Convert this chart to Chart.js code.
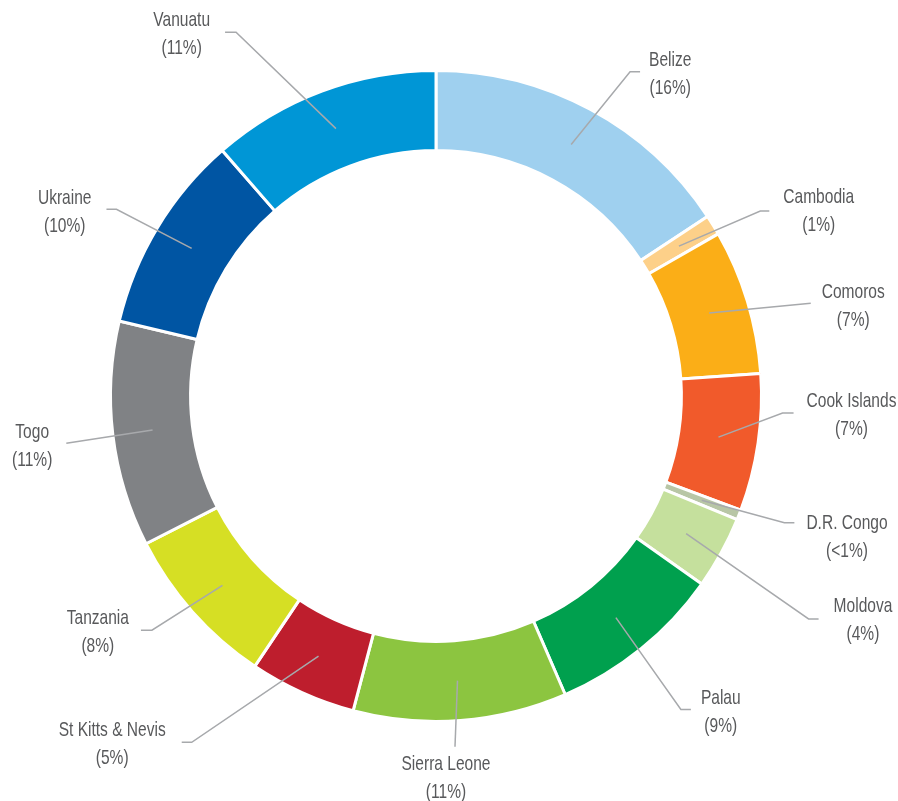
<!DOCTYPE html>
<html>
<head>
<meta charset="utf-8">
<script src="https://cdn.jsdelivr.net/npm/chart.js@4.4.1/dist/chart.umd.min.js"></script>
<style>
  html, body { margin: 0; padding: 0; background: #ffffff; }
  canvas { display: block; }
</style>
</head>
<body>
<canvas id="ring" width="898" height="801"></canvas>
<script>
// Share of total, by country (clockwise from 12 o'clock)
const countries = ['Belize', 'Cambodia', 'Comoros', 'Cook Islands', 'D.R. Congo', 'Moldova', 'Palau',
  'Sierra Leone', 'St Kitts & Nevis', 'Tanzania', 'Togo', 'Ukraine', 'Vanuatu'];
const shares = [15.7, 1.0, 7.2, 6.8, 0.5, 3.6, 8.7, 10.6, 5.3, 8.1, 11.2, 9.9, 11.4];
const sliceColors = ['#9fd0ef', '#fdd089', '#fbae17', '#f15a2b', '#b8c6a6', '#c5e09d', '#00a04e',
  '#8cc540', '#be1e2d', '#d6df24', '#808285', '#0055a3', '#0096d6'];

// Callout layout: elbow direction (degrees clockwise from 12 o'clock), elbow distance
// as a multiple of the ring's outer radius, horizontal tail length, text side,
// gap between tail and text block, and vertical offset of the first text line.
const leaderAngle = [30.9, 60.3, 76.1, 92.8, 110.0, 120.9, 142.0, 176.9, 215.2, 230.5, 262.7, 300.3, 331.2];
const leaderReach = [1.161, 1.147, 1.186, 1.066, 1.139, 1.334, 1.222, 1.079, 1.302, 1.131, 1.145, 1.137, 1.275];
const leaderTail = [10, 9, 0, 11, 10, 10, 10, 0, 10, 11, 0, 10, 11];
const labelSide = ['right', 'right', 'right', 'right', 'right', 'right', 'right', 'below',
  'left', 'left', 'left', 'left', 'left'];
const labelGap = [9, 14, 11, 13, 12, 15, 10, -9, 16, 12, 14, 15, 15];
const labelShift = [-12, -14, -11, -12, 0, -13, -11, 18, -12, -12, -11, -11, -12];

// Condensed lettering: a regular sans squeezed horizontally
const LABEL_FONT = '21px "Liberation Sans", Arial, sans-serif';
const LABEL_SQUEEZE = 0.74;

function percentText(v, total) {
  const p = Math.round(v / total * 1000) / 10;
  return '(' + (p < 1 ? '<1' : Math.round(p)) + '%)';
}

// Draws a grey leader line from the middle of each slice out to its two-line label
const leaderLabels = {
  id: 'leaderLabels',
  afterDatasetsDraw(chart) {
    const ctx = chart.ctx;
    const arcs = chart.getDatasetMeta(0).data;
    const total = shares.reduce((a, b) => a + b, 0);
    ctx.save();
    ctx.font = LABEL_FONT;
    ctx.textAlign = 'center';
    ctx.textBaseline = 'middle';
    arcs.forEach((arc, i) => {
      const { x, y, startAngle, endAngle, innerRadius, outerRadius } =
        arc.getProps(['x', 'y', 'startAngle', 'endAngle', 'innerRadius', 'outerRadius'], true);
      const mid = (startAngle + endAngle) / 2;
      const rMid = (innerRadius + outerRadius) / 2;
      const sx = x + Math.cos(mid) * rMid;
      const sy = y + Math.sin(mid) * rMid;
      const a = (leaderAngle[i] - 90) * Math.PI / 180;
      const ex = x + Math.cos(a) * leaderReach[i] * outerRadius;
      const ey = y + Math.sin(a) * leaderReach[i] * outerRadius;
      const side = labelSide[i] === 'left' ? -1 : (labelSide[i] === 'right' ? 1 : 0);
      const tx = ex + side * leaderTail[i];

      ctx.strokeStyle = '#a7a9ac';
      ctx.lineWidth = 1.5;
      ctx.beginPath();
      ctx.moveTo(sx, sy);
      ctx.lineTo(ex, ey);
      if (side !== 0 && leaderTail[i] > 0) ctx.lineTo(tx, ey);
      ctx.stroke();

      const lines = [countries[i], percentText(shares[i], total)];
      const w = Math.max(...lines.map(t => ctx.measureText(t).width)) * LABEL_SQUEEZE;
      const cx = side !== 0 ? tx + side * (labelGap[i] + w / 2) : tx + labelGap[i];
      const cy = ey + labelShift[i];
      ctx.fillStyle = '#58595b';
      lines.forEach((t, k) => {
        ctx.save();
        ctx.translate(cx, cy + k * 28);
        ctx.scale(LABEL_SQUEEZE, 1);
        ctx.fillText(t, 0, 0);
        ctx.restore();
      });
    });
    ctx.restore();
  }
};

new Chart(document.getElementById('ring'), {
  type: 'doughnut',
  data: {
    labels: countries,
    datasets: [{
      data: shares,
      backgroundColor: sliceColors,
      borderColor: '#ffffff',
      borderWidth: 3
    }]
  },
  options: {
    responsive: false,
    animation: false,
    cutout: '75.4%',
    layout: { padding: { top: 69, bottom: 78, left: 109, right: 135 } },
    plugins: {
      legend: { display: false },
      tooltip: { enabled: false }
    }
  },
  plugins: [leaderLabels]
});
</script>
</body>
</html>
